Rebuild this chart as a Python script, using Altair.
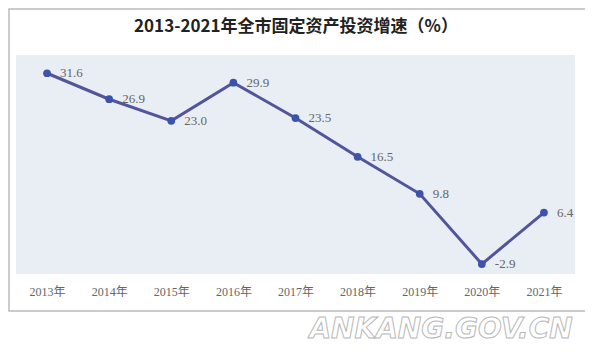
import altair as alt
import pandas as pd

years = ["2013年", "2014年", "2015年", "2016年", "2017年", "2018年", "2019年", "2020年", "2021年"]
growth = [31.6, 26.9, 23.0, 29.9, 23.5, 16.5, 9.8, -2.9, 6.4]
labels = ["31.6", "26.9", "23.0", "29.9", "23.5", "16.5", "9.8", "-2.9", "6.4"]
title_text = "2013-2021年全市固定资产投资增速（%）"
watermark = "ANKANG.GOV.CN"

df = pd.DataFrame({"year": years, "value": growth, "label": labels})

x = alt.X("year:N", sort=years, title=None,
          scale=alt.Scale(paddingInner=0, paddingOuter=0.5),
          axis=alt.Axis(labelAngle=0, ticks=False, domain=False, grid=False,
                        labelPadding=12, labelFontSize=12, labelColor="#666666",
                        labelFont="Liberation Serif, Noto Sans CJK SC"))
y = alt.Y("value:Q", title=None,
          scale=alt.Scale(domain=[-4.7, 34.9], nice=False, zero=False),
          axis=None)

base = alt.Chart(df)
line = base.mark_line(color="#52559a", strokeWidth=3).encode(x=x, y=y)
pts = base.mark_circle(color="#3d52ad", size=60, opacity=1).encode(x=x, y=y)
txt = base.mark_text(align="left", baseline="middle", dx=13, fontSize=13,
                     font="Liberation Serif", color="#666666").encode(x=x, y=y, text="label:N")

one = pd.DataFrame({"t": [watermark], "h": [title_text]})
border = alt.Chart(one).mark_rect(fill=None, stroke="#bbbbbb", strokeWidth=1.5).encode(
    x=alt.value(-7), x2=alt.value(575), y=alt.value(-46), y2=alt.value(256))
wm = alt.Chart(one).mark_text(align="center", baseline="middle", fontSize=28,
                              fontStyle="italic", fontWeight="bold", font="DejaVu Sans",
                              fill="#ffffff", stroke="#b8b8b8", strokeWidth=1).encode(
    x=alt.value(425), y=alt.value(275), text="t:N")
ttl = alt.Chart(one).mark_text(align="center", baseline="middle", fontSize=17,
                               fontWeight="bold", font="Noto Sans CJK SC",
                               color="#222222").encode(
    x=alt.value(280), y=alt.value(-28), text="h:N")

chart = alt.layer(line, pts, txt, border, wm, ttl).properties(
    width=559, height=219,
    autosize=alt.AutoSizeParams(type="none"),
    padding={"left": 8, "top": 47, "right": 10, "bottom": 76},
).configure_view(fill="#e9edf4", stroke=None)

chart.save("out.html", embed_options={"renderer": "svg", "actions": False})
